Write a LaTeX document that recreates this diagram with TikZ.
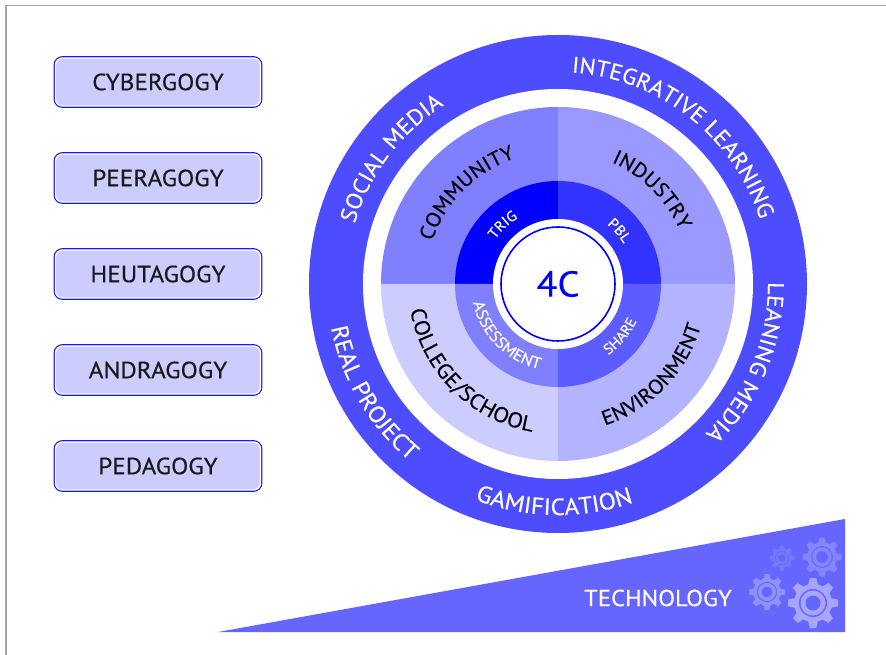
\documentclass[tikz,border=0pt]{standalone}
\usepackage{fontspec}
\setmainfont[FakeStretch=1.07, FakeBold=0.25]{PT Sans}
\usetikzlibrary{positioning, decorations.text}

\definecolor{ringblue}{HTML}{4D4DFF}
\definecolor{wedgeblue}{HTML}{6666FF}
\definecolor{paleblue}{HTML}{CCCCFF}

\tikzset{
  pagebox/.style={preaction={draw=blue!90!white, line width=3.8pt}, draw=white, line width=1.4pt,
    fill=paleblue, rounded corners=7pt, minimum width=205pt, minimum height=48pt,
    font=\fontsize{23.5}{23.5}\selectfont, text=black!90},
  pics/gearwheel/.style 2 args={code={
    \fill[#1] (0,0) circle (0.76);
    \foreach \a in {0,45,...,315}
      \fill[#1, rotate=\a] (-0.2,0.7) -- (-0.13,1) -- (0.13,1) -- (0.2,0.7) -- cycle;
    \fill[#2] (0,0) circle (0.56);
    \fill[#1] (0,0) circle (0.5);
    \fill[#2] (0,0) circle (0.3);
  }}
}

\definecolor{gearA}{HTML}{A6A6FF}
\definecolor{gearB}{HTML}{9090FF}
\definecolor{gearC}{HTML}{8585FF}
\definecolor{gearD}{HTML}{7777FF}

\newcommand{\bigtext}{\fontsize{23.5}{23.5}\selectfont}
\newcommand{\toptext}{\fontsize{22.5}{22.5}\selectfont}
\newcommand{\midtext}{\fontsize{20.5}{20.5}\selectfont}
\newcommand{\widetext}{\fontsize{21.5}{21.5}\selectfont}
\newcommand{\smalltext}{\fontsize{14.5}{14.5}\selectfont}
\newcommand{\assesstext}{\fontsize{16}{16}\selectfont}
\newcommand{\collegename}{COLLEGE/SCHOOL}

\begin{document}
\begin{tikzpicture}[x=1pt,y=1pt,node distance=96pt]
  \useasboundingbox (-558,-371) rectangle (328,284);
  \fill[white] (-558,-371) rectangle (328,284);
  \draw[black!35, line width=1.2pt] (-552,-371) -- (-552,278.5) -- (328,278.5);

% the ring and the quarters
  \fill[ringblue] (0,0) circle (249);
  \fill[white] (0,0) circle (195);
  \foreach \from/\col in {0/9999FF, 90/8080FF, 180/CCCCFF, 270/B3B3FF} {
    \definecolor{part}{HTML}{\col}
    \fill[part] (0,0) -- (\from:177) arc[start angle=\from, delta angle=90, radius=177] -- cycle;
  }
  \foreach \from/\col in {0/3333FF, 90/0000FF, 180/8080FF, 270/5C5CFF} {
    \definecolor{part}{HTML}{\col}
    \fill[part] (0,0) -- (\from:103) arc[start angle=\from, delta angle=90, radius=103] -- cycle;
  }
  \fill[white] (0,0) circle (65);
  \node[circle, draw=blue, line width=1.6pt, minimum size=114pt, inner sep=0pt, text=blue,
    font=\fontsize{36}{36}\selectfont] (core) at (0,0) {4C};

% labels that read clockwise
  \foreach \mid/\rad/\txt/\tcol/\tfont in {
      143/212/SOCIAL MEDIA/white/\toptext,
      52/212/INTEGRATIVE LEARNING/white/\toptext,
      -22.5/210/LEANING MEDIA/white/\toptext,
      135/133/COMMUNITY/black/\midtext,
      45/133/INDUSTRY/black/\midtext,
      133/77/TRIG/white/\smalltext,
      41/77/PBL/white/\smalltext}
    \path[decorate, decoration={text along path, text color=\tcol, text align=center,
        text/.expanded={|\noexpand\tfont|\txt}}]
      (\mid+80:\rad) arc[start angle=\mid+80, end angle=\mid-80, radius=\rad];

% labels that read anticlockwise
  \foreach \mid/\rad/\txt/\tcol/\tfont in {
      -91/231/GAMIFICATION/white/\bigtext,
      -149.5/231/REAL PROJECT/white/\bigtext,
      -44/149/ENVIRONMENT/black/\midtext,
      225/150/\collegename/black/\widetext,
      -40/87/SHARE/white/\smalltext,
      225/87/ASSESSMENT/white/\assesstext}
    \path[decorate, decoration={text along path, text color=\tcol, text align=center,
        text/.expanded={|\noexpand\tfont|\txt}}]
      (\mid-80:\rad) arc[start angle=\mid-80, end angle=\mid+80, radius=\rad];

% the boxes on the left
  \node[pagebox] (cyber) at (-400,202) {CYBERGOGY};
  \node[pagebox] (peer)  [below of=cyber] {PEERAGOGY};
  \node[pagebox] (heuta) [below of=peer]  {HEUTAGOGY};
  \node[pagebox] (andra) [below of=heuta] {ANDRAGOGY};
  \node[pagebox] (peda)  [below of=andra] {PEDAGOGY};

% the wedge with its gears
  \fill[wedgeblue] (-340,-348) -- (287,-348) -- (287,-235) -- cycle;
  \node[text=white, font=\fontsize{23}{23}\selectfont] (tech) at (100,-314) {TECHNOLOGY};
  \pic[scale=25] at (255,-319) {gearwheel={gearA}{wedgeblue}};
  \pic[scale=18] at (209,-308) {gearwheel={gearB}{wedgeblue}};
  \pic[scale=19.5] at (264,-273) {gearwheel={gearC}{wedgeblue}};
  \pic[scale=12.5] at (224,-274) {gearwheel={gearD}{wedgeblue}};
\end{tikzpicture}
\end{document}
